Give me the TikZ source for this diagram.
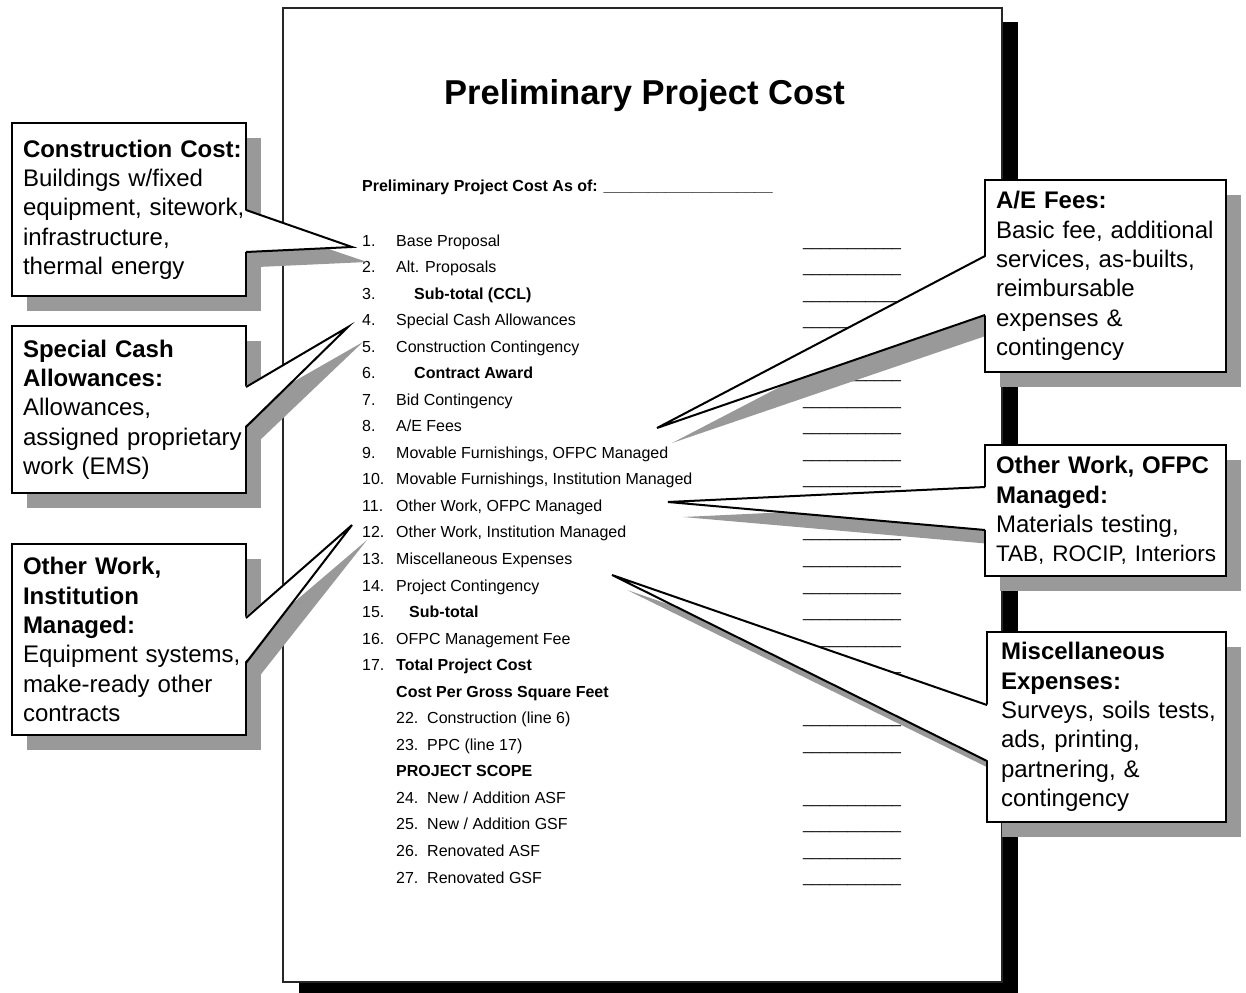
\documentclass[tikz,border=0pt]{standalone}
\usepackage{fontspec}
\setmainfont{Liberation Sans}
\usetikzlibrary{shadows}

\begin{document}
\begin{tikzpicture}[x=1pt, y=-1pt,
  page/.style={draw=black!85, line width=1.5pt, fill=white, minimum width=719pt, minimum height=974pt, inner sep=0pt,
    drop shadow={shadow xshift=16pt, shadow yshift=-14pt, fill=black, opacity=1}},
  row/.style={anchor=base west, inner sep=0pt, font=\fontsize{16}{19}\selectfont},
  callbox/.style={draw, line width=2pt, fill=white, align=left, inner xsep=0pt, inner ysep=0pt,
    font=\fontsize{24}{29.3}\selectfont,
    execute at begin node={\leftskip=11pt\hyphenpenalty=10000},
    drop shadow={shadow xshift=15pt, shadow yshift=-15pt, fill=black!40, opacity=1}},
  leftbox/.style={callbox, text width=234pt},
  rightbox/.style={callbox, text width=241pt},
  shade/.style={fill=black!40},
  ptr/.style={line width=2pt}]
\useasboundingbox (0,0) rectangle (1246,992);

% the form sheet
\node[page] (page) at (642.5,495) {};
\node[anchor=base, inner sep=0pt, font=\fontsize{34.5}{40}\selectfont\bfseries] (title) at (644.5,105) {Preliminary Project Cost};
\node[row, font=\fontsize{16}{19}\selectfont\bfseries] (asof) at (362,192) {Preliminary Project Cost As of: \_\_\_\_\_\_\_\_\_\_\_\_\_\_\_\_\_\_\_};

\node[row] (r1) at (362,246.0) {\makebox[34pt][l]{1.}Base Proposal};
\node[row] (r2) at (362,272.5) {\makebox[34pt][l]{2.}Alt. Proposals};
\node[row] (r3) at (362,299.1) {\makebox[52pt][l]{3.}\textbf{Sub-total (CCL)}};
\node[row] (r4) at (362,325.6) {\makebox[34pt][l]{4.}Special Cash Allowances};
\node[row] (r5) at (362,352.2) {\makebox[34pt][l]{5.}Construction Contingency};
\node[row] (r6) at (362,378.7) {\makebox[52pt][l]{6.}\textbf{Contract Award}};
\node[row] (r7) at (362,405.2) {\makebox[34pt][l]{7.}Bid Contingency};
\node[row] (r8) at (362,431.8) {\makebox[34pt][l]{8.}A/E Fees};
\node[row] (r9) at (362,458.3) {\makebox[34pt][l]{9.}Movable Furnishings, OFPC Managed};
\node[row] (r10) at (362,484.9) {\makebox[34pt][l]{10.}Movable Furnishings, Institution Managed};
\node[row] (r11) at (362,511.4) {\makebox[34pt][l]{11.}Other Work, OFPC Managed};
\node[row] (r12) at (362,537.9) {\makebox[34pt][l]{12.}Other Work, Institution Managed};
\node[row] (r13) at (362,564.5) {\makebox[34pt][l]{13.}Miscellaneous Expenses};
\node[row] (r14) at (362,591.0) {\makebox[34pt][l]{14.}Project Contingency};
\node[row] (r15) at (362,617.6) {\makebox[47pt][l]{15.}\textbf{Sub-total}};
\node[row] (r16) at (362,644.1) {\makebox[34pt][l]{16.}OFPC Management Fee};
\node[row] (r17) at (362,670.6) {\makebox[34pt][l]{17.}\textbf{Total Project Cost}};
\node[row] (r18) at (396,697.2) {\textbf{Cost Per Gross Square Feet}};
\node[row] (r19) at (396,723.7) {\makebox[31pt][l]{22.}Construction (line 6)};
\node[row] (r20) at (396,750.3) {\makebox[31pt][l]{23.}PPC (line 17)};
\node[row] (r21) at (396,776.8) {\textbf{PROJECT SCOPE}};
\node[row] (r22) at (396,803.3) {\makebox[31pt][l]{24.}New / Addition ASF};
\node[row] (r23) at (396,829.9) {\makebox[31pt][l]{25.}New / Addition GSF};
\node[row] (r24) at (396,856.4) {\makebox[31pt][l]{26.}Renovated ASF};
\node[row] (r25) at (396,883.0) {\makebox[31pt][l]{27.}Renovated GSF};
\foreach \i in {1,...,17,19,20,22,23,24,25}
  \node[row] (b\i) at (803,{246+(\i-1)*26.54}) {\_\_\_\_\_\_\_\_\_\_\_};

% construction cost
\coordinate (cc1) at (246,210);
\coordinate (cc2) at (246,252);
\coordinate (cctip) at (352,247);
\fill[shade] ([shift={(12,15)}]cc1) -- ([shift={(15,15)}]cctip) -- ([shift={(12,15)}]cc2) -- cycle;
\node[leftbox, minimum height=173pt] (cc) at (129,209.5) {\textbf{Construction Cost:}\\Buildings w/fixed\\equipment,~sitework,\\infrastructure,\\thermal energy};
\fill[white] ([xshift=-2pt]cc1) -- (cctip) -- ([xshift=-2pt]cc2) -- cycle;
\draw[ptr] (cc1) -- (cctip) -- (cc2);

% special cash allowances
\coordinate (sca1) at (246,387);
\coordinate (sca2) at (246,427);
\coordinate (scatip) at (348,327);
\fill[shade] ([shift={(12,15)}]sca1) -- ([shift={(15,15)}]scatip) -- ([shift={(12,15)}]sca2) -- cycle;
\node[leftbox, minimum height=167pt] (sca) at (129,409.5) {\textbf{Special Cash}\\\textbf{Allowances:}\\Allowances,\\assigned~proprietary\\work (EMS)};
\fill[white] ([xshift=-2pt]sca1) -- (scatip) -- ([xshift=-2pt]sca2) -- cycle;
\draw[ptr] (sca1) -- (scatip) -- (sca2);

% other work, institution
\coordinate (owi1) at (246,618);
\coordinate (owi2) at (246,663);
\coordinate (owitip) at (352,525);
\fill[shade] ([shift={(12,15)}]owi1) -- ([shift={(15,15)}]owitip) -- ([shift={(12,15)}]owi2) -- cycle;
\node[leftbox, minimum height=191pt] (owi) at (129,639.5) {\textbf{Other Work,}\\\textbf{Institution}\\\textbf{Managed:}\\Equipment~systems,\\make-ready other\\contracts};
\fill[white] ([xshift=-2pt]owi1) -- (owitip) -- ([xshift=-2pt]owi2) -- cycle;
\draw[ptr] (owi1) -- (owitip) -- (owi2);

% a/e fees
\coordinate (ae1) at (985,256);
\coordinate (ae2) at (985,315);
\coordinate (aetip) at (657,428);
\fill[shade] ([shift={(18,15)}]ae1) -- ([shift={(15,15)}]aetip) -- ([shift={(18,15)}]ae2) -- cycle;
\node[rightbox, minimum height=192pt] (ae) at (1105.5,276) {\textbf{A/E Fees:}\\Basic fee, additional\\services, as-builts,\\reimbursable\\expenses \&\\contingency};
\fill[white] ([xshift=2pt]ae1) -- (aetip) -- ([xshift=2pt]ae2) -- cycle;
\draw[ptr] (ae1) -- (aetip) -- (ae2);

% other work, ofpc
\coordinate (owo1) at (985,487);
\coordinate (owo2) at (985,530);
\coordinate (owotip) at (668,502);
\fill[shade] ([shift={(18,15)}]owo1) -- ([shift={(15,15)}]owotip) -- ([shift={(18,15)}]owo2) -- cycle;
\node[rightbox, minimum height=131pt] (owo) at (1105.5,510.5) {\textbf{Other Work, OFPC}\\\textbf{Managed:}\\Materials testing,\\{\fontsize{22.5}{29.3}\selectfont TAB, ROCIP, Interiors}};
\fill[white] ([xshift=2pt]owo1) -- (owotip) -- ([xshift=2pt]owo2) -- cycle;
\draw[ptr] (owo1) -- (owotip) -- (owo2);

% miscellaneous expenses
\coordinate (misc1) at (987,705);
\coordinate (misc2) at (987,761);
\coordinate (misctip) at (612,575);
\fill[shade] ([shift={(18,15)}]misc1) -- ([shift={(15,15)}]misctip) -- ([shift={(18,15)}]misc2) -- cycle;
\node[callbox, text width=239pt, execute at begin node={\leftskip=14pt}, minimum height=190pt] (misc) at (1106.5,727) {\textbf{Miscellaneous}\\\textbf{Expenses:}\\Surveys, soils tests,\\ads, printing,\\partnering, \&\\contingency};
\fill[white] ([xshift=2pt]misc1) -- (misctip) -- ([xshift=2pt]misc2) -- cycle;
\draw[ptr] (misc1) -- (misctip) -- (misc2);
\end{tikzpicture}
\end{document}
